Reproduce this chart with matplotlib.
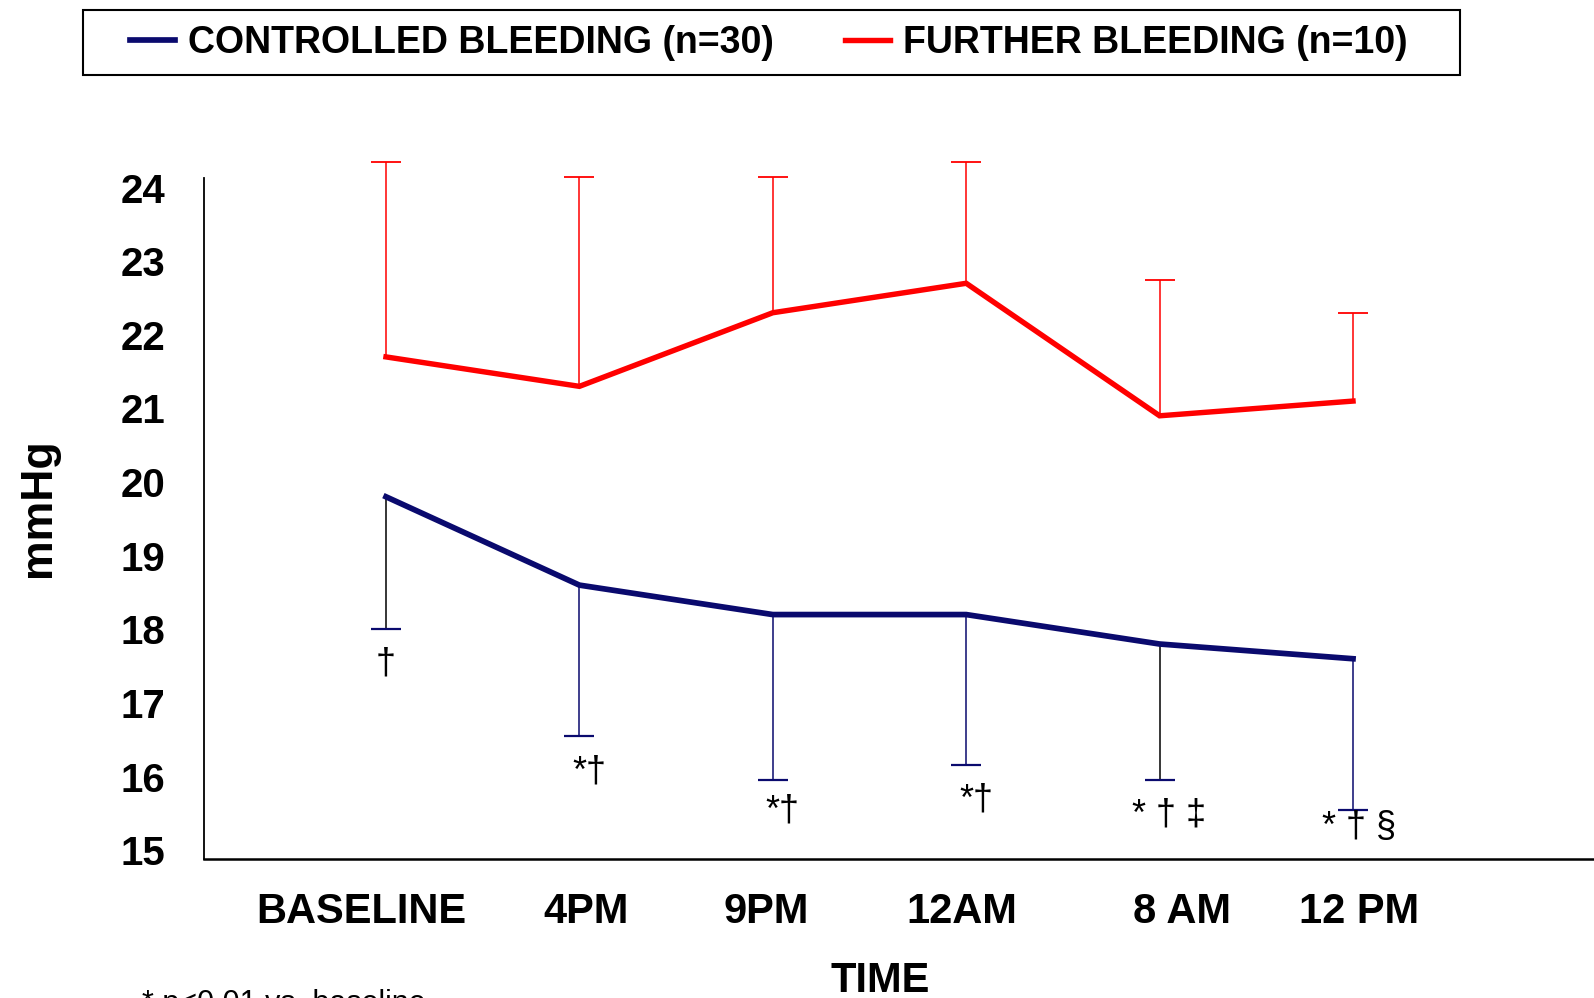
import matplotlib
matplotlib.use("Agg")
import matplotlib.pyplot as plt
import matplotlib.transforms as mtransforms
from matplotlib.patches import Rectangle
import numpy as np

plt.rcParams['font.family'] = ['Liberation Sans', 'DejaVu Sans']

# time points
times = ['BASELINE', '4PM', '9PM', '12AM', '8 AM', '12 PM']

# further bleeding group (mean, SD shown upward)
further_mean = [21.7, 21.3, 22.3, 22.7, 20.9, 21.1]
further_sd = [2.65, 2.85, 1.85, 1.65, 1.85, 1.2]

# controlled bleeding group (mean, SD shown downward)
controlled_mean = [19.8, 18.6, 18.2, 18.2, 17.8, 17.6]
controlled_sd = [1.8, 2.05, 2.25, 2.05, 1.85, 2.05]

# significance marks under the controlled group
marks = ['\u2020', '*\u2020', '*\u2020', '*\u2020', '* \u2020 \u2021', '* \u2020 \u00a7']

y_ticks = [15, 16, 17, 18, 19, 20, 21, 22, 23, 24]

NAVY = '#0a0a6e'
RED = '#ff0000'

fig = plt.figure(figsize=(15.94, 9.98), dpi=100)
ax = fig.add_axes([204 / 1594, 0.1393, 1390 / 1594, 0.717])

x = np.arange(len(times))

red_line, = ax.plot(x, further_mean, color=RED, lw=3.9, solid_joinstyle='miter', zorder=3)
for i in range(len(x)):
    hi = further_mean[i] + further_sd[i]
    ax.vlines(x[i], further_mean[i], hi, color=RED, lw=1.1, zorder=2)
    ax.plot([x[i]], [hi], marker='_', ms=22, mew=1.3, color=RED, zorder=2)

blue_line, = ax.plot(x, controlled_mean, color=NAVY, lw=4.1, solid_joinstyle='miter', zorder=3)
bar_colors = ['black', NAVY, NAVY, NAVY, 'black', NAVY]
for i in range(len(x)):
    lo = controlled_mean[i] - controlled_sd[i]
    ax.vlines(x[i], lo, controlled_mean[i], color=bar_colors[i], lw=1.1, zorder=2)
    ax.plot([x[i]], [lo], marker='_', ms=22, mew=1.6, color=NAVY, zorder=2)

# offsets of the marks below the bar ends (points)
note_dx = [0, 7, 7, 7, 7, 4]
note_dy = [-25, -26, -22, -25, -25, -13]
for i in range(len(x)):
    lo = controlled_mean[i] - controlled_sd[i]
    ax.annotate(marks[i], (x[i], lo), xytext=(note_dx[i], note_dy[i]), textcoords='offset points',
                ha='center', va='center', fontsize=26, annotation_clip=False)

ax.set_xlim(-0.941, 6.246)
ax.set_ylim(14.88, 24.6)
ax.set_xticks(x)
ax.set_xticklabels(times, fontsize=30, fontweight='bold')
ax.set_yticks(y_ticks)
ax.set_yticklabels([str(t) for t in y_ticks], fontsize=29, fontweight='bold')
ax.tick_params(axis='x', length=0, pad=24)
ax.tick_params(axis='y', length=0, pad=28)

# nudge the time labels sideways (points)
label_dx = [-17.5, 4.5, -4.5, -3, 16, 4.5]
for lab, dx in zip(ax.get_xticklabels(), label_dx):
    lab.set_transform(lab.get_transform() + mtransforms.ScaledTranslation(dx / 72, 0, fig.dpi_scale_trans))

for s in ['top', 'right']:
    ax.spines[s].set_visible(False)
ax.spines['left'].set_bounds(14.88, 24.13)
ax.spines['left'].set_linewidth(1.3)
ax.spines['bottom'].set_linewidth(1.8)

fig.text(38 / 1594, 1 - 508 / 998, 'mmHg', rotation=90, fontsize=32, fontweight='bold',
         ha='center', va='center')
fig.text(880 / 1594, 1 - 981 / 998, 'TIME', fontsize=30, fontweight='bold',
         ha='center', va='center')
fig.text(142 / 1594, -14 / 998, '* p<0.01 vs. baseline', fontsize=22, ha='left', va='baseline')

# legend box drawn separately so its padding can be set freely
fig.patches.append(Rectangle((83 / 1594, 1 - 75 / 998), (1460 - 83) / 1594, 65 / 998,
                             transform=fig.transFigure, fill=False, edgecolor='black', lw=1.5))
fig.legend([blue_line, red_line],
           ['CONTROLLED BLEEDING (n=30)', 'FURTHER BLEEDING (n=10)'],
           loc='center left', ncol=2, bbox_to_anchor=(130 / 1594, 1 - 43 / 998),
           prop={'size': 27, 'weight': 'bold'}, handlelength=1.2, handletextpad=0.35,
           columnspacing=1.9, borderpad=0, borderaxespad=0, frameon=False)

fig.savefig('out.png', dpi=100)
